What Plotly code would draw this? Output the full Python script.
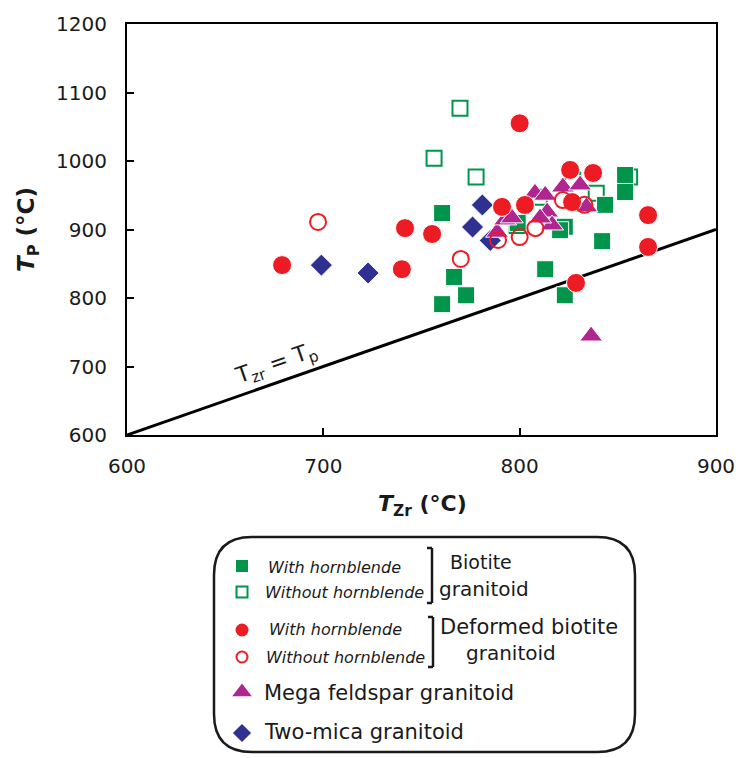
import plotly.graph_objects as go

W, H = 739, 758
FONT = "DejaVu Sans, sans-serif"

# ---------------- data ----------------
bio_hbl_x = [760.5, 766.6, 760.5, 772.7, 813, 823, 823, 842, 843.5, 853.7, 853.7, 820.6, 799]
bio_hbl_y = [924, 830.7, 791, 804, 842, 904, 804, 883, 936, 979.6, 954.7, 899, 909.5]

bio_nohbl_x = [769.6, 756.4, 777.8, 856, 839, 827, 810, 798.7]
bio_nohbl_y = [1077, 1004, 976.6, 976.6, 953, 972, 947, 906]

def_hbl_x = [679, 741.6, 755.4, 740, 800, 791, 802.7, 825.7, 837.4, 826.7, 865.4, 865.4, 828.7]
def_hbl_y = [848, 902, 893.4, 842, 1055, 933, 935.8, 987, 982.5, 940, 921, 874.5, 822]

def_nohbl_x = [697.3, 770, 789, 800, 808, 822, 833]
def_nohbl_y = [911, 857, 884.7, 889, 902, 943, 936]

mega_x = [788.5, 792.6, 796, 807.8, 813, 814, 816.5, 810.4, 822, 830.8, 834, 836.4]
mega_y = [896, 914, 917, 953, 950, 925.5, 906.6, 916.8, 962, 965, 933, 744.5]

mica_x = [699, 722.8, 776, 781, 785]
mica_y = [848, 836.5, 903.6, 935.8, 884]

line_x = [600, 900]
line_y = [600, 900]

x_ticks = [600, 700, 800, 900]
y_ticks = [600, 700, 800, 900, 1000, 1100, 1200]

GREEN = "#00954A"
RED = "#ED1C24"
MAG = "#B0258F"
BLUE = "#2E3192"
TXT = "#1a1a1a"

# plot area in pixels
L, R, T, B = 127, 716, 24, 435

fig = go.Figure()

fig.add_trace(go.Scatter(x=line_x, y=line_y, mode="lines",
                         line=dict(color="black", width=3), showlegend=False))

def sc(x, y, symbol, color, size, open_=False):
    if open_:
        m = dict(symbol=symbol, size=size, color=color,
                 line=dict(color=color, width=2))
    else:
        m = dict(symbol=symbol, size=size, color=color,
                 line=dict(color="white", width=1))
    fig.add_trace(go.Scatter(x=x, y=y, mode="markers", marker=m, showlegend=False))

sc(bio_nohbl_x, bio_nohbl_y, "square-open", GREEN, 15, True)
sc(bio_hbl_x, bio_hbl_y, "square", GREEN, 17)
sc(mica_x, mica_y, "diamond", BLUE, 17)
sc(mega_x, mega_y, "triangle-up", MAG, 20)
sc(def_hbl_x, def_hbl_y, "circle", RED, 19)
sc(def_nohbl_x, def_nohbl_y, "circle-open", RED, 16, True)

# legend markers on a pixel-based overlay axis
leg_x = [242, 242, 242, 242, 242, 242]
leg_y = [566, 592, 630, 657, 692, 733]
leg_sym = ["square", "square-open", "circle", "circle-open", "triangle-up", "diamond"]
leg_col = [GREEN, GREEN, RED, RED, MAG, BLUE]
leg_size = [12, 11, 13, 11, 17, 14]
for xx, yy, s, c, sz in zip(leg_x, leg_y, leg_sym, leg_col, leg_size):
    if s.endswith("open"):
        m = dict(symbol=s, size=sz, color=c, line=dict(color=c, width=2))
    else:
        m = dict(symbol=s, size=sz, color=c, line=dict(width=0))
    fig.add_trace(go.Scatter(x=[xx], y=[yy], mode="markers", marker=m,
                             xaxis="x2", yaxis="y2", showlegend=False))

fig.update_layout(
    width=W, height=H,
    margin=dict(l=0, r=0, t=0, b=0, pad=0),
    paper_bgcolor="white", plot_bgcolor="rgba(0,0,0,0)",
    font=dict(family=FONT, color=TXT),
    xaxis=dict(domain=[L / W, R / W], range=[600, 900], tickvals=x_ticks,
               showline=True, linecolor="black", linewidth=2, mirror=True,
               ticks="inside", ticklen=7, tickwidth=2, tickcolor="black",
               showgrid=False, zeroline=False, tickfont=dict(size=20, color=TXT),
               ticklabelstandoff=12, automargin=False, fixedrange=True),
    yaxis=dict(domain=[1 - B / H, 1 - T / H], range=[600, 1200], tickvals=y_ticks,
               showline=True, linecolor="black", linewidth=2, mirror=True,
               ticks="inside", ticklen=7, tickwidth=2, tickcolor="black",
               showgrid=False, zeroline=False, tickfont=dict(size=20, color=TXT),
               ticklabelstandoff=14, automargin=False, fixedrange=True),
    xaxis2=dict(domain=[0, 1], range=[0, W], visible=False, anchor="y2", fixedrange=True),
    yaxis2=dict(domain=[0, 1], range=[H, 0], visible=False, anchor="x2", fixedrange=True),
)

def px(x):
    return x / W

def py(y):
    return 1 - y / H

ann = []
def text(x, y, t, size, anchor="left", angle=0, italic=False):
    if italic:
        t = "<i>" + t + "</i>"
    ann.append(dict(x=px(x), y=py(y), xref="paper", yref="paper", text=t,
                    showarrow=False, xanchor=anchor, yanchor="middle",
                    textangle=angle, font=dict(size=size, family=FONT, color=TXT)))

# axis titles
text(422, 505, "<b><i>T</i></b><sub><b>Zr</b></sub><b> (°C)</b>", 22, "center")
text(28, 230, "<b><i>T</i></b><sub><b>P</b></sub><b> (°C)</b>", 23, "center", angle=-90)
# line label
text(276, 364, "T<sub>zr</sub> = T<sub>p</sub>", 22, "center", angle=-19.2)

# legend texts
text(266, 567, "With hornblende", 16, italic=True)
text(263, 592, "Without hornblende", 16, italic=True)
text(448, 562, "Biotite", 19)
text(437, 589, "granitoid", 20)
text(267, 629, "With hornblende", 16, italic=True)
text(264, 657, "Without hornblende", 16, italic=True)
text(438, 627, "Deformed biotite", 21)
text(464, 653, "granitoid", 20)
text(262, 693, "Mega feldspar granitoid", 21)
text(262, 732, "Two-mica granitoid", 21)
fig.update_layout(annotations=ann)

shapes = []
def seg(x0, y0, x1, y1, w=2.5):
    shapes.append(dict(type="line", xref="paper", yref="paper",
                       x0=px(x0), y0=py(y0), x1=px(x1), y1=py(y1),
                       line=dict(color=TXT, width=w)))

# brackets
for (bx, top, bot) in [(432, 548, 603), (433, 617, 667)]:
    seg(bx, top, bx, bot)
    seg(bx - 5, top, bx, top)
    seg(bx - 5, bot, bx, bot)

# rounded legend box
x0, x1, y0, y1, r = 214, 635, 537, 752, 38
def P(x, y):
    return f"{px(x):.5f},{py(y):.5f}"
path = (f"M {P(x0 + r, y0)} L {P(x1 - r, y0)} Q {P(x1, y0)} {P(x1, y0 + r)} "
        f"L {P(x1, y1 - r)} Q {P(x1, y1)} {P(x1 - r, y1)} "
        f"L {P(x0 + r, y1)} Q {P(x0, y1)} {P(x0, y1 - r)} "
        f"L {P(x0, y0 + r)} Q {P(x0, y0)} {P(x0 + r, y0)} Z")
shapes.append(dict(type="path", xref="paper", yref="paper", path=path,
                   line=dict(color=TXT, width=2.5)))
fig.update_layout(shapes=shapes)

fig.write_html("out.html")
